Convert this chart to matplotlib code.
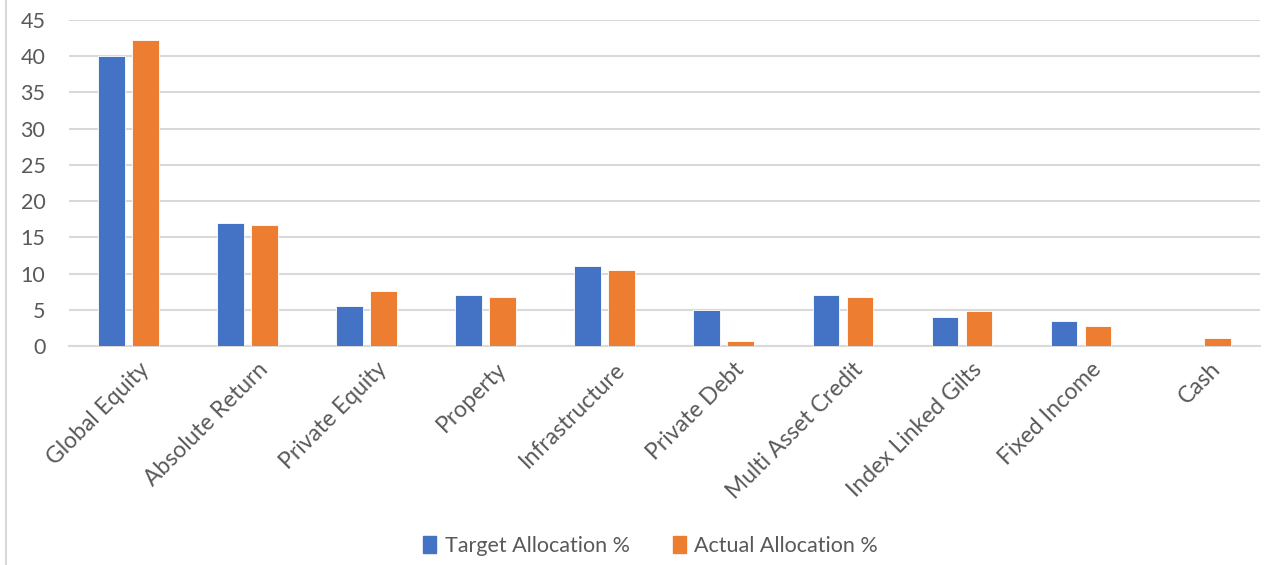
import matplotlib.pyplot as plt
import numpy as np
from matplotlib.patches import Patch

plt.rcParams['font.family'] = ['Lato', 'DejaVu Sans']

# Data
categories = ['Global Equity', 'Absolute Return', 'Private Equity', 'Property',
              'Infrastructure', 'Private Debt', 'Multi Asset Credit',
              'Index Linked Gilts', 'Fixed Income', 'Cash']
target = [40, 17, 5.5, 7, 11, 5, 7, 4, 3.5, 0]
actual = [42.3, 16.7, 7.6, 6.8, 10.5, 0.7, 6.7, 4.8, 2.7, 1.1]
yticks = [0, 5, 10, 15, 20, 25, 30, 35, 40, 45]

blue = '#4472C4'
orange = '#ED7D31'
text_col = '#595959'

fig = plt.figure(figsize=(12.66, 5.65), dpi=100)
ax = fig.add_axes([0.0545, 0.3876, 0.9405, 0.577])

x = np.arange(len(categories))
w = 0.225
ax.bar(x - 0.143, target, w, color=blue, edgecolor='white', linewidth=0.6, zorder=3)
ax.bar(x + 0.143, actual, w, color=orange, edgecolor='white', linewidth=0.6, zorder=3)

ax.set_xlim(-0.5, len(categories) - 0.5)
ax.set_ylim(0, 45)
ax.set_yticks(yticks)
ax.set_xticks(x + 0.08)
ax.set_xticklabels(categories, rotation=45, ha='right', rotation_mode='anchor',
                   color=text_col, fontsize=16.5)
ax.tick_params(axis='y', colors=text_col, labelsize=15.5, length=0, pad=17)
ax.tick_params(axis='x', length=0, pad=9)

ax.grid(axis='y', color='#D9D9D9', linewidth=1.5, zorder=0)
for s in ['top', 'right', 'left']:
    ax.spines[s].set_visible(False)
ax.spines['bottom'].set_color('#D9D9D9')
ax.spines['bottom'].set_linewidth(1.5)

# chart border on the left
fig.add_artist(plt.Line2D([0.005, 0.005], [0, 1], color='#D9D9D9', linewidth=1.5))

handles = [Patch(color=blue, label='Target Allocation %'),
           Patch(color=orange, label='Actual Allocation %')]
fig.legend(handles=handles, loc='center', bbox_to_anchor=(0.514, 0.034), ncol=2,
           frameon=False, fontsize=15.5, labelcolor=text_col,
           handlelength=0.6, handleheight=0.8, handletextpad=0.4, columnspacing=2.0)

fig.savefig('out.png', dpi=100, facecolor='white')
